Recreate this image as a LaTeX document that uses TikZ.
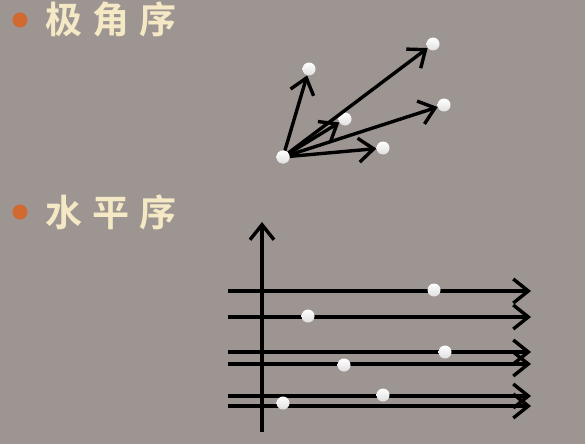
\documentclass[tikz,border=0pt]{standalone}
\usepackage{fontspec}
\newfontfamily\cjk{Noto Sans CJK SC Bold}
\usetikzlibrary{arrows.meta}
\definecolor{bgc}{RGB}{157,149,146}
\definecolor{txtc}{RGB}{245,232,196}
\definecolor{bulc}{RGB}{208,106,48}
\begin{document}
\begin{tikzpicture}[x=1pt,y=-1pt,
  pt/.style={circle,inner sep=0pt,minimum size=13pt,top color=white,bottom color=gray!25,draw=none},
  arr/.style={line width=3.4pt,black,-{Straight Barb[length=15pt,width=24pt]}},
  lbl/.style={text=txtc,font=\cjk\fontsize{37}{42}\selectfont,anchor=base west,inner sep=0pt},
  bul/.style={circle,fill=bulc,minimum size=15pt,inner sep=0pt}]
\fill[bgc] (0,0) rectangle (585,444);
\useasboundingbox (0,0) rectangle (585,444);
% headings
\node[bul] (b1) at (20,20) {};
\node[lbl] (t1) at (45,34) {极\hspace{10pt}角\hspace{10pt}序};
\node[bul] (b2) at (20,212) {};
\node[lbl] (t2) at (45,226) {水\hspace{10pt}平\hspace{10pt}序};
% polar order
\node[pt] (o) at (283,157) {};
\node[pt] (p1) at (309,69) {};
\node[pt] (p2) at (433,44) {};
\node[pt] (p3) at (444,105) {};
\node[pt] (p4) at (345,119) {};
\node[pt] (p5) at (383,148) {};
\foreach \p in {p1,p2,p3,p4,p5} \draw[arr] (o) -- (\p);
\node[pt] at (o) {};
% horizontal order
\coordinate (ya) at (262,432);
\coordinate (yb) at (262,222);
\draw[arr] (ya) -- (yb);
\foreach \i/\y in {1/291,2/317,3/352,4/364,5/396,6/406}{
  \coordinate (l\i) at (228,\y);
  \coordinate (r\i) at (531,\y);
  \draw[arr] (l\i) -- (r\i);
}
\node[pt] (h1) at (434,290) {};
\node[pt] (h2) at (308,316) {};
\node[pt] (h3) at (445,352) {};
\node[pt] (h4) at (344,365) {};
\node[pt] (h5) at (383,395) {};
\node[pt] (h6) at (283,403) {};
\end{tikzpicture}
\end{document}
